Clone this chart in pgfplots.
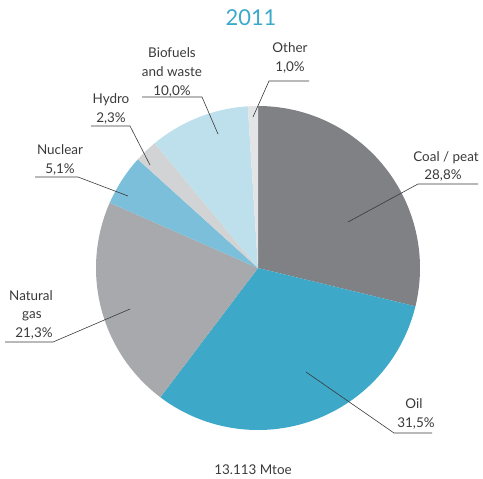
\documentclass[border=0pt]{standalone}
\usepackage{fontspec}
\setmainfont{Lato}
\usepackage{pgfplots}
\usepackage{pgfplotstable}
\pgfplotsset{compat=1.18}
\definecolor{cCoal}{HTML}{808184}
\definecolor{cOil}{HTML}{3EA8C8}
\definecolor{cGas}{HTML}{A7A9AC}
\definecolor{cNuc}{HTML}{7BBFDA}
\definecolor{cHydro}{HTML}{D1D3D4}
\definecolor{cBio}{HTML}{BEE0EC}
\definecolor{cOther}{HTML}{E3E4E6}
\definecolor{titlecol}{HTML}{3BA9CB}
\definecolor{txt}{HTML}{3A3A3A}
\pgfplotstableread{
source share colour
Coal 28.8 cCoal
Oil 31.5 cOil
Gas 21.3 cGas
Nuclear 5.1 cNuc
Hydro 2.3 cHydro
Biofuels 10.0 cBio
Other 1.0 cOther
}\mixdata
\pgfplotstablegetrowsof{\mixdata}
\pgfmathtruncatemacro\nrows{\pgfplotsretval-1}
\begin{document}
\begin{tikzpicture}
\begin{axis}[
  width=483bp, height=479bp, scale only axis,
  xmin=0, xmax=483, ymin=0, ymax=479, y dir=reverse,
  hide axis, clip=false,
]
\draw[draw=none] (axis cs:0,0) rectangle (axis cs:483,479);
\gdef\cum{0}
\foreach \i in {0,...,\nrows}{%
  \pgfplotstablegetelem{\i}{share}\of\mixdata \let\val\pgfplotsretval
  \pgfplotstablegetelem{\i}{colour}\of\mixdata \let\col\pgfplotsretval
  \pgfmathsetmacro\a{90-3.6*\cum}%
  \pgfmathsetmacro\b{90-3.6*(\cum+\val)}%
  \edef\temp{\noexpand\addplot[draw=none,fill=\col,domain=\b:\a,samples=120]
    ({258+162*cos(x)},{268-162*sin(x)}) -- (axis cs:258,268) -- cycle;}%
  \temp
  \pgfmathsetmacro\newcum{\cum+\val}\xdef\cum{\newcum}%
}
% leader lines
\begin{scope}[draw=txt, line width=0.6pt]
\draw (axis cs:478,184) -- (axis cs:418,184) -- (axis cs:348,222);
\draw (axis cs:432,433) -- (axis cs:394,433) -- (axis cs:306,372);
\draw (axis cs:5,342) -- (axis cs:53,342) -- (axis cs:130,309);
\draw (axis cs:35,177) -- (axis cs:78,177) -- (axis cs:128,196);
\draw (axis cs:91,126) -- (axis cs:130,126) -- (axis cs:150,165);
\draw (axis cs:142,97) -- (axis cs:202,97) -- (axis cs:218,134);
\draw (axis cs:309,81) -- (axis cs:269,81) -- (axis cs:253,117);
\end{scope}
\begin{scope}[every node/.style={anchor=base, inner sep=0pt, text=txt, font=\fontsize{13.5}{16}\selectfont}]
\node at (axis cs:446,161) {Coal / peat};
\node at (axis cs:443,179) {28,8\%};
\node at (axis cs:414,408) {Oil};
\node at (axis cs:416,427) {31,5\%};
\node at (axis cs:31,300) {Natural};
\node at (axis cs:32,318) {gas};
\node at (axis cs:34,337) {21,3\%};
\node at (axis cs:60,154) {Nuclear};
\node at (axis cs:60,173) {5,1\%};
\node at (axis cs:111,103) {Hydro};
\node at (axis cs:111,122) {2,3\%};
\node at (axis cs:172,58) {Biofuels};
\node at (axis cs:172,77) {and waste};
\node at (axis cs:172,95) {10,0\%};
\node at (axis cs:290,53) {Other};
\node at (axis cs:290,72) {1,0\%};
\node at (axis cs:253,474) {13.113 Mtoe};
\end{scope}
\node[anchor=base, inner sep=0pt, text=titlecol, font=\fontsize{22}{26}\selectfont] at (axis cs:251,26) {2011};
\end{axis}
\end{tikzpicture}
\end{document}
